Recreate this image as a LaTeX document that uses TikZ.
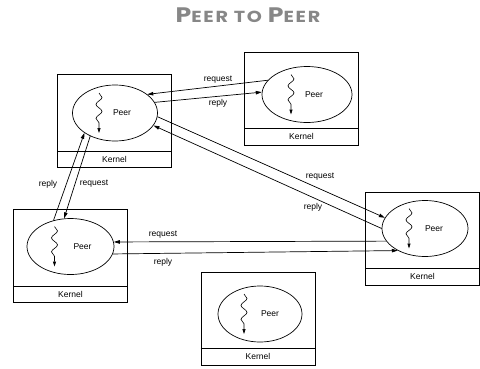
\documentclass[tikz,border=0pt]{standalone}
\usepackage{fontspec}
\setmainfont{Liberation Sans}
\newfontfamily\titlefont[LetterSpace=9]{Poppins}
\usetikzlibrary{arrows.meta,shapes.geometric,decorations.pathmorphing}
\definecolor{titlegray}{HTML}{878787}
\begin{document}
\begin{tikzpicture}[x=1pt,y=-1pt,
  host/.style={draw, line width=0.7pt, minimum width=114pt, minimum height=93pt, inner sep=0pt},
  proc/.style={draw, ellipse, line width=0.7pt, minimum width=86pt, minimum height=56pt, inner sep=0pt},
  lbl/.style={font=\fontsize{8.5}{10}\selectfont, inner sep=0pt},
  msg/.style={line width=0.7pt, -{Triangle[length=6pt,width=3.5pt]}},
  thread/.pic={\draw[line width=0.6pt, decorate,
      decoration={snake, amplitude=3pt, segment length=14pt, post length=5pt},
      -{Triangle[length=5pt,width=3pt]}] (0,-20) -- (0,20);}
]
\useasboundingbox (0,0) rectangle (480,368);

% title, set in small capitals and widened
\node[font=\titlefont\bfseries, text=titlegray, inner sep=0pt] (title) at (248,15)
  {\scalebox{1.2}[1]{{\fontsize{21}{21}\selectfont P}{\fontsize{16}{16}\selectfont EER TO }{\fontsize{21}{21}\selectfont P}{\fontsize{16}{16}\selectfont EER}}};

% hosts: machine box, kernel strip, peer process with its thread
\newcommand\hostbox[5]{%
  % #1 name, #2 box centre, #3 ellipse centre, #4 ellipse width, #5 label offset
  \node[host] (h#1) at #2 {};
  \draw[line width=0.7pt] ([yshift=17pt]h#1.south west) -- ([yshift=17pt]h#1.south east);
  \node[lbl] (k#1) at ([yshift=8.5pt]h#1.south) {Kernel};
  \node[proc, minimum width=#4] (p#1) at #3 {};
  \node[lbl] (t#1) at ([xshift=#5]p#1.center) {Peer};
  \pic at ([xshift=-16pt]p#1.center) {thread};
}
\hostbox{A}{(114.5,121)}{(115,113)}{85pt}{7pt}
\hostbox{B}{(301.5,98.5)}{(307,94.5)}{90pt}{7pt}
\hostbox{C}{(70.5,256)}{(70.5,246.5)}{87pt}{12pt}
\hostbox{D}{(422.5,238.5)}{(425,228.5)}{86pt}{9pt}
\hostbox{E}{(258,318.5)}{(260,314)}{84pt}{10pt}

% messages A <-> B
\draw[msg] (pB.160) -- (pA.30);
\draw[msg] (pA.15) -- (pB.177);
\node[lbl] (rqAB) at (218,80) {request};
\node[lbl] (rpAB) at (218,103) {reply};

% messages A <-> D
\draw[msg] (pA.-5) -- (pD.165);
\draw[msg] (pD.180) -- (pA.-18);
\node[lbl] (rqAD) at (320,177) {request};
\node[lbl] (rpAD) at (313,207) {reply};

% messages C <-> D
\draw[msg] (pD.198) -- (pC.6);
\draw[msg] (pC.-10) -- (pD.219);
\node[lbl] (rqCD) at (163,235) {request};
\node[lbl] (rpCD) at (163,262) {reply};

% messages A <-> C
\draw[msg] (pC.123) -- (pA.-147);
\draw[msg] (pA.-137) -- (pC.103);
\node[lbl] (rpAC) at (48,184) {reply};
\node[lbl] (rqAC) at (94,184) {request};
\end{tikzpicture}
\end{document}
